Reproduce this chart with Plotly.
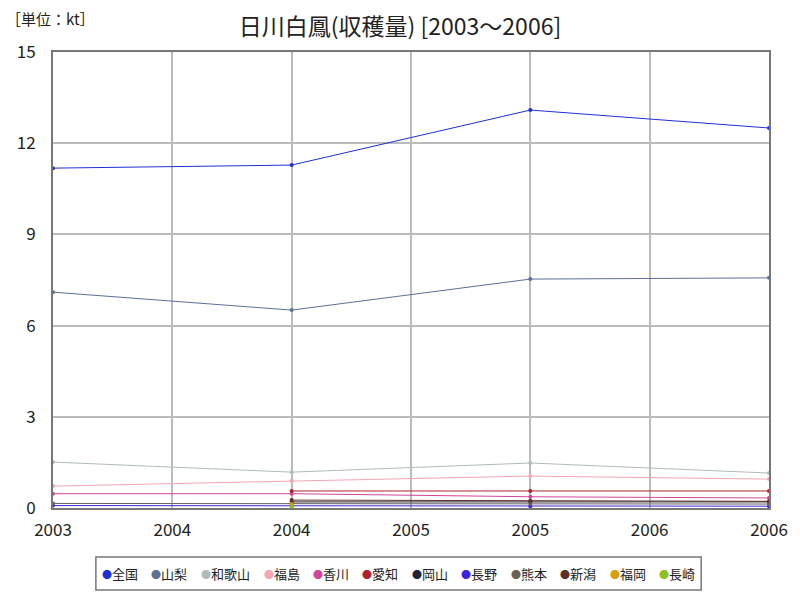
import plotly.graph_objects as go

years = [2003, 2004, 2005, 2006]
tick_vals = [2003, 2003.5, 2004, 2004.5, 2005, 2005.5, 2006]
tick_text = ["2003", "2004", "2004", "2005", "2005", "2006", "2006"]

names = ["全国", "山梨", "和歌山", "福島", "香川", "愛知", "岡山", "長野", "熊本", "新潟", "福岡", "長崎"]
v_zenkoku = [11.18, 11.28, 13.09, 12.5]
v_yamanashi = [7.1, 6.51, 7.53, 7.57]
v_wakayama = [1.51, 1.18, 1.48, 1.15]
v_fukushima = [0.72, 0.89, 1.05, 0.95]
v_kagawa = [0.47, 0.47, 0.37, 0.33]
v_aichi = [None, 0.56, 0.56, 0.56]
v_okayama = [None, 0.2, 0.2, 0.2]
v_nagano = [0.08, 0.07, 0.06, 0.06]
v_kumamoto = [0.15, 0.15, 0.13, 0.13]
v_niigata = [None, 0.26, 0.24, 0.22]
v_fukuoka = [None, 0.12, None, None]
v_nagasaki = [None, 0.04, None, None]
values = [v_zenkoku, v_yamanashi, v_wakayama, v_fukushima, v_kagawa, v_aichi,
          v_okayama, v_nagano, v_kumamoto, v_niigata, v_fukuoka, v_nagasaki]
colors = ["#1f2fd6", "#5a7099", "#b0bcb8", "#f4a6b4", "#d0449a", "#b02030",
          "#222238", "#4422dd", "#6a625a", "#603028", "#d4a010", "#90c020"]

fig = go.Figure()
for n, v, c in zip(names, values, colors):
    fig.add_trace(go.Scatter(x=years, y=v, name=n, mode="lines+markers",
                             line=dict(color=c, width=1), marker=dict(color=c, size=4),
                             connectgaps=False, showlegend=False))

font = "Noto Sans CJK JP"
L, R, T, B = 53, 29, 52, 92
W, H = 800, 600
pw, ph = W - L - R, H - T - B

def px_x(px):
    return (px - L) / pw

def px_y(py):
    return (H - B - py) / ph

# custom legend (dot + name), built from names/colors
annotations = []
start = 100
leg_y = 573
for n, c in zip(names, colors):
    annotations.append(dict(
        text=f"<span style='color:{c};font-size:10px'>●</span>{n}", xref="paper", yref="paper",
        x=px_x(start), y=px_y(leg_y), xanchor="left", yanchor="middle", showarrow=False,
        font=dict(size=13, family=font, color="#222")))
    start += 23 + 13.3 * len(n)

annotations.append(dict(text="［単位：kt］", xref="paper", yref="paper", x=px_x(4), y=px_y(18),
                        xanchor="left", yanchor="middle", showarrow=False,
                        font=dict(size=15, family=font, color="#222")))

shapes = [dict(type="rect", xref="paper", yref="paper",
               x0=px_x(96), x1=px_x(703), y0=px_y(557), y1=px_y(590),
               line=dict(color="#777777", width=1.5), fillcolor="rgba(0,0,0,0)")]

fig.update_layout(
    width=W, height=H,
    margin=dict(l=L, r=R, t=T, b=B),
    paper_bgcolor="white", plot_bgcolor="white",
    font=dict(family=font, color="#222"),
    showlegend=False,
    title=dict(text="日川白鳳(収穫量) [2003～2006]", x=0.5, xanchor="center",
               y=1 - 27 / H, yanchor="middle", font=dict(size=23, family=font, color="#222")),
    xaxis=dict(range=[2003, 2006], tickvals=tick_vals, ticktext=tick_text,
               showgrid=True, gridcolor="#bbbbbb", gridwidth=1.5,
               showline=True, linecolor="#777777", linewidth=2, mirror=True,
               ticks="", ticklabelstandoff=6, tickfont=dict(size=17, family=font), zeroline=False),
    yaxis=dict(range=[0, 15], tickvals=[0, 3, 6, 9, 12, 15],
               showgrid=True, gridcolor="#bbbbbb", gridwidth=1.5,
               showline=True, linecolor="#777777", linewidth=2, mirror=True,
               ticks="", ticklabelstandoff=12, tickfont=dict(size=17, family=font), zeroline=False),
    annotations=annotations,
    shapes=shapes,
)
fig.write_html("out.html")
